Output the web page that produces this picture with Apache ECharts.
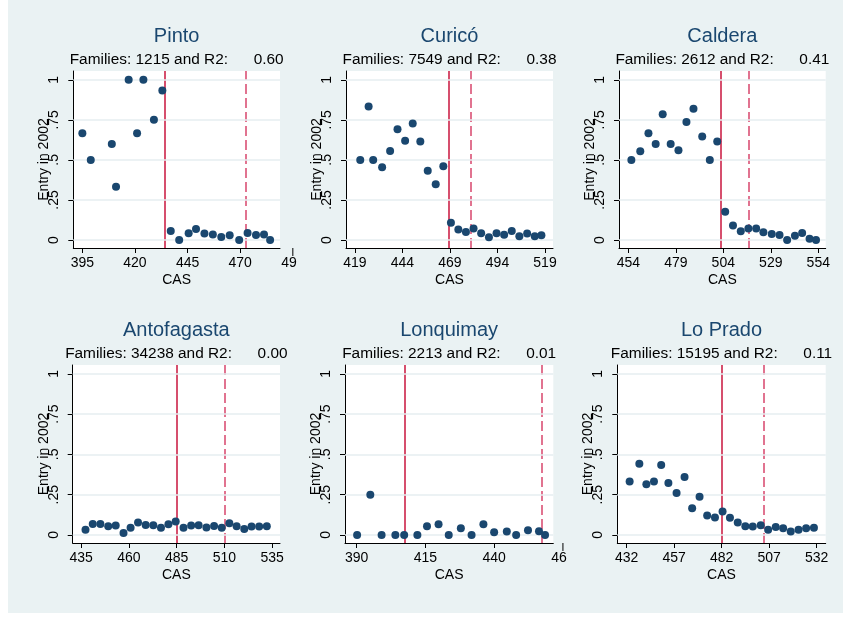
<!DOCTYPE html>
<html>
<head>
<meta charset="utf-8">
<script src="https://cdn.jsdelivr.net/npm/echarts@6/dist/echarts.min.js"></script>
<style>
  html, body { margin: 0; padding: 0; background: #ffffff; }
  #chart { position: absolute; left: 8px; top: 0; width: 835px; height: 613px; }
</style>
</head>
<body>
<div id="chart"></div>
<script>
// Municipalities shown, one panel each
const regions = ['Pinto', 'Curicó', 'Caldera', 'Antofagasta', 'Lonquimay', 'Lo Prado'];
const families = [1215, 7549, 2612, 34238, 2213, 15195];
const r2Values = ['0.60', '0.38', '0.41', '0.00', '0.01', '0.11'];

// CAS score (x) and share of families entering in 2002 (y)
const pintoCas   = [395, 399, 409, 411, 417, 421, 424, 429, 433, 437, 441, 445.5, 449, 453, 457, 461, 465, 469.5, 473.5, 477.5, 481.3, 484.2];
const pintoEntry = [0.667, 0.5, 0.6, 0.333, 1, 0.667, 1, 0.75, 0.933, 0.056, 0, 0.042, 0.069, 0.04, 0.035, 0.019, 0.029, 0, 0.044, 0.031, 0.035, 0];

const curicoCas   = [421.8, 426.2, 428.6, 433.3, 437.5, 441.4, 445.4, 449.4, 453.4, 457.3, 461.5, 465.5, 469.5, 473.4, 477.4, 481.4, 485.4, 489.5, 493.5, 497.5, 501.5, 505.5, 509.6, 513.6, 517.1];
const curicoEntry = [0.5, 0.833, 0.5, 0.454, 0.556, 0.692, 0.619, 0.727, 0.615, 0.433, 0.348, 0.46, 0.108, 0.065, 0.05, 0.071, 0.042, 0.017, 0.042, 0.033, 0.056, 0.023, 0.04, 0.023, 0.029];

const calderaCas   = [455.6, 460.3, 464.6, 468.4, 472.1, 476.3, 480.4, 484.6, 488.3, 492.9, 496.9, 500.8, 505, 509.1, 513.2, 517.2, 521.3, 525.1, 529.5, 533.6, 537.6, 541.7, 545.5, 549.4, 552.8];
const calderaEntry = [0.5, 0.554, 0.667, 0.6, 0.785, 0.6, 0.56, 0.737, 0.819, 0.646, 0.5, 0.615, 0.177, 0.09, 0.054, 0.071, 0.071, 0.048, 0.038, 0.031, 0, 0.027, 0.044, 0.008, 0];

const antofagastaCas   = [437.3, 441.1, 445.1, 449.2, 453.1, 457.2, 460.9, 464.8, 468.8, 472.8, 476.8, 480.7, 484.5, 488.6, 492.6, 496.5, 500.6, 504.6, 508.6, 512.6, 516.4, 520.4, 524.2, 528.2, 532.2];
const antofagastaEntry = [0.033, 0.068, 0.068, 0.054, 0.058, 0.012, 0.044, 0.077, 0.062, 0.06, 0.044, 0.066, 0.083, 0.044, 0.058, 0.06, 0.046, 0.056, 0.044, 0.073, 0.054, 0.037, 0.052, 0.052, 0.054];

const lonquimayCas   = [390.2, 395, 399.1, 404.1, 407.3, 412.1, 415.6, 419.8, 423.5, 427.9, 431.8, 436.1, 440, 444.6, 448, 452.3, 456.3, 458.5];
const lonquimayEntry = [0, 0.249, 0, 0, 0, 0, 0.054, 0.066, 0, 0.041, 0, 0.066, 0.017, 0.021, 0, 0.029, 0.023, 0];

const loPradoCas   = [433.6, 438.7, 442.4, 446.4, 450.2, 454, 458.3, 462.5, 466.5, 470.4, 474.4, 478.5, 482.5, 486.4, 490.5, 494.5, 498.4, 502.6, 506.5, 510.5, 514.4, 518.4, 522.5, 526.5, 530.6];
const loPradoEntry = [0.332, 0.442, 0.315, 0.332, 0.434, 0.322, 0.261, 0.359, 0.166, 0.237, 0.12, 0.108, 0.145, 0.106, 0.077, 0.054, 0.052, 0.06, 0.033, 0.05, 0.041, 0.021, 0.033, 0.041, 0.044];

// Eligibility cutoff (solid) and upper threshold (dashed) per municipality
const cutoffSolid  = [434.3, 468.3, 502.4, 485, 407.6, 482];
const cutoffDashed = [472.8, 479.7, 517.5, 510, 457.3, 504];

// x-axis tick labels per panel
const xTicks = [
  [395, 420, 445, 470],
  [419, 444, 469, 494, 519],
  [454, 479, 504, 529, 554],
  [435, 460, 485, 510, 535],
  [390, 415, 440],
  [432, 457, 482, 507, 532]
];
// next tick past the right edge, partly visible
const overflowTicks = [495, null, null, null, 465, null];

const yTicks = [0, 0.25, 0.5, 0.75, 1];
const yTickLabels = ['0', '.25', '.5', '.75', '1'];

const casData = [pintoCas, curicoCas, calderaCas, antofagastaCas, lonquimayCas, loPradoCas];
const entryData = [pintoEntry, curicoEntry, calderaEntry, antofagastaEntry, lonquimayEntry, loPradoEntry];

// ---- layout (page pixels; the chart box starts 8px in) ----
const OFFX = 8;
const layout = [
  { left: 73.3,  width: 206.7, top: 71,  height: 177, min: 390.7, max: 488.9 },
  { left: 346,   width: 207,   top: 71,  height: 177, min: 414.3, max: 523.2 },
  { left: 619,   width: 206.7, top: 71,  height: 177, min: 449.1, max: 557.9 },
  { left: 72.7,  width: 207.3, top: 365, height: 178, min: 430.6, max: 539.1 },
  { left: 345,   width: 208.3, top: 365, height: 178, min: 385.8, max: 461.5 },
  { left: 617.3, width: 208.4, top: 365, height: 178, min: 427.1, max: 536.8 }
];
const FONT = '"Liberation Sans", Arial, Helvetica, sans-serif';
const NAVY = '#1a476f';

const grids = [], xAxes = [], yAxes = [], series = [], graphics = [];

layout.forEach((g, i) => {
  grids.push({
    left: g.left - OFFX, top: g.top, width: g.width, height: g.height,
    show: true, backgroundColor: '#ffffff', borderWidth: 0, containLabel: false
  });
  xAxes.push({
    gridIndex: i, type: 'value', min: g.min, max: g.max,
    name: 'CAS', nameLocation: 'middle', nameGap: 25, nameMoveOverlap: false,
    nameTextStyle: { fontFamily: FONT, fontSize: 14, color: '#000' },
    axisLine: { show: true, onZero: false, lineStyle: { color: '#000', width: 1 } },
    axisTick: { show: true, length: 5, customValues: xTicks[i], lineStyle: { color: '#000' } },
    axisLabel: { show: true, customValues: xTicks[i], margin: 8, fontFamily: FONT, fontSize: 14, color: '#000' },
    splitLine: { show: false }
  });
  yAxes.push({
    gridIndex: i, type: 'value', min: -0.05, max: 1.055,
    name: 'Entry in 2002', nameLocation: 'middle', nameGap: 22, nameRotate: 90, nameMoveOverlap: false,
    nameTextStyle: { fontFamily: FONT, fontSize: 14, color: '#000' },
    axisLine: { show: true, onZero: false, lineStyle: { color: '#000', width: 1 } },
    axisTick: { show: true, length: 5, customValues: yTicks, lineStyle: { color: '#000' } },
    axisLabel: {
      show: true, customValues: yTicks, rotate: 90, margin: 12,
      fontFamily: FONT, fontSize: 14, color: '#000',
      formatter: v => yTickLabels[yTicks.findIndex(t => Math.abs(t - v) < 1e-6)]
    },
    splitLine: { show: false }
  });
  series.push({
    name: regions[i], type: 'scatter', xAxisIndex: i, yAxisIndex: i,
    data: casData[i].map((x, k) => [x, entryData[i][k]]),
    symbol: 'circle', symbolSize: 8,
    itemStyle: { color: NAVY, opacity: 1 },
    z: 5,
    markLine: {
      silent: true, symbol: ['none', 'none'], animation: false,
      label: { show: false },
      data: [
        { xAxis: cutoffSolid[i], lineStyle: { type: 'solid', color: '#c8143c', width: 1.5 } },
        { xAxis: cutoffDashed[i], lineStyle: { type: [10, 4], color: '#d8456c', width: 1.5 } }
      ]
    }
  });
  // horizontal gridlines in the plot region
  series.push({
    type: 'line', xAxisIndex: i, yAxisIndex: i, data: [], silent: true, z: 1,
    markLine: {
      silent: true, symbol: ['none', 'none'], animation: false,
      label: { show: false },
      lineStyle: { type: 'solid', color: '#e6eef1', width: 1.6 },
      data: yTicks.map(v => ({ yAxis: v }))
    }
  });

  const cx = g.left + g.width / 2 - OFFX;
  graphics.push({
    type: 'text', x: cx, y: g.top - 35,
    style: { text: regions[i], fill: NAVY, font: '20px ' + FONT, textAlign: 'center', textVerticalAlign: 'middle' }
  });
  graphics.push({
    type: 'text', x: cx, y: g.top - 11.5,
    style: { text: 'Families: ' + families[i] + ' and R2:      ' + r2Values[i], fill: '#000', font: '15.4px ' + FONT, textAlign: 'center', textVerticalAlign: 'middle' }
  });
});

const chart = echarts.init(document.getElementById('chart'), null, { renderer: 'canvas' });
chart.setOption({
  animation: false,
  backgroundColor: '#eaf2f3',
  grid: grids, xAxis: xAxes, yAxis: yAxes, series: series,
  graphic: graphics
});

// partly visible tick labels just beyond the right edge of a panel
const ctx = document.createElement('canvas').getContext('2d');
ctx.font = '14px ' + FONT;
const extra = [];
overflowTicks.forEach((v, i) => {
  if (v == null) return;
  const px = chart.convertToPixel({ xAxisIndex: i }, v);
  const yb = layout[i].top + layout[i].height;
  const full = String(v);
  const w = ctx.measureText(full).width;
  extra.push({
    type: 'line', shape: { x1: px, y1: yb, x2: px, y2: yb + 8 },
    style: { stroke: '#000', lineWidth: 1 }
  });
  extra.push({
    type: 'text', x: px - w / 2, y: yb + 8,
    style: { text: full.slice(0, 2), fill: '#000', font: '14px ' + FONT, textAlign: 'left', textVerticalAlign: 'top' }
  });
});
chart.setOption({ graphic: graphics.concat(extra) });
</script>
</body>
</html>
